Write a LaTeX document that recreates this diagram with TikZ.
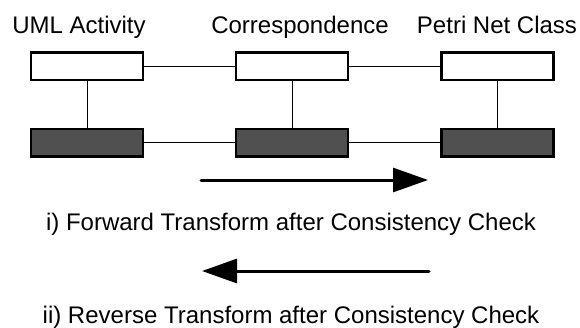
\documentclass[tikz,border=0pt]{standalone}
\usepackage{fontspec}
\setmainfont{Liberation Sans}
\usetikzlibrary{arrows.meta}
\definecolor{shade}{HTML}{505050}
\tikzset{
  plainbox/.style={draw, line width=2.5pt, fill=white, minimum width=112pt, minimum height=27.5pt, inner sep=0pt},
  darkbox/.style={plainbox, fill=shade},
  link/.style={line width=1pt},
  bigarrow/.style={line width=3pt, line cap=round, -{Triangle[length=35pt,width=24pt]}},
  caption/.style={anchor=base, font=\fontsize{24}{28}\selectfont}
}
\begin{document}
\begin{tikzpicture}[x=1pt,y=-1pt]
  \useasboundingbox (0,0) rectangle (580,327);
  \node[caption] (umllabel) at (79,33) {UML Activity};
  \node[caption] (corrlabel) at (300,33) {Correspondence};
  \node[caption] (petrilabel) at (497,33) {Petri Net Class};
  \node[plainbox] (uml) at (87,66) {};
  \node[plainbox] (corr) at (292,66) {};
  \node[plainbox] (petri) at (497.5,66) {};
  \node[darkbox] (umlx) at (87,142.5) {};
  \node[darkbox] (corrx) at (292,142.5) {};
  \node[darkbox] (petrix) at (497.5,142.5) {};
  \draw[link] (uml) -- (corr);
  \draw[link] (corr) -- (petri);
  \draw[link] (umlx) -- (corrx);
  \draw[link] (corrx) -- (petrix);
  \draw[link] (uml) -- (umlx);
  \draw[link] (corr) -- (corrx);
  \draw[link] (petri) -- (petrix);
  \coordinate (fwdstart) at (201,180);
  \coordinate (fwdend) at (428,180);
  \draw[bigarrow] (fwdstart) -- (fwdend);
  \node[caption] (fwdlabel) at (291,230) {i) Forward Transform after Consistency Check};
  \coordinate (revstart) at (429,271);
  \coordinate (revend) at (202,271);
  \draw[bigarrow] (revstart) -- (revend);
  \node[caption] (revlabel) at (291,323) {ii) Reverse Transform after Consistency Check};
\end{tikzpicture}
\end{document}
